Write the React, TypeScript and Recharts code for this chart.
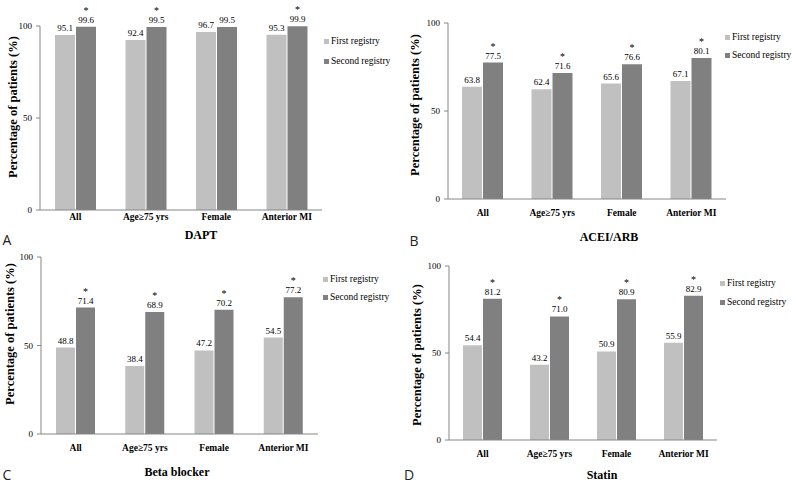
import React from 'react';
import { BarChart, Bar, XAxis, YAxis, Legend, LabelList } from 'recharts';

const categories = ['All', 'Age≥75 yrs', 'Female', 'Anterior MI'];
const seriesNames = ['First registry', 'Second registry'];
const yTicks = [0, 50, 100];
const boundaryTicks = [0, 1, 2, 3, 4];
const panelTitles = ['DAPT', 'ACEI/ARB', 'Beta blocker', 'Statin'];
const panelLetters = ['A', 'B', 'C', 'D'];
const yAxisTitle = 'Percentage of patients (%)';

const daptFirst = [95.1, 92.4, 96.7, 95.3];
const daptSecond = [99.6, 99.5, 99.5, 99.9];
const daptSig = [true, true, false, true];

const aceiFirst = [63.8, 62.4, 65.6, 67.1];
const aceiSecond = [77.5, 71.6, 76.6, 80.1];
const aceiSig = [true, true, true, true];

const betaFirst = [48.8, 38.4, 47.2, 54.5];
const betaSecond = [71.4, 68.9, 70.2, 77.2];
const betaSig = [true, true, true, true];

const statinFirst = [54.4, 43.2, 50.9, 55.9];
const statinSecond = [81.2, 71.0, 80.9, 82.9];
const statinSig = [true, true, true, true];

const SERIF = "'Liberation Serif', 'Times New Roman', serif";
const SANS = "'Open Sans', 'Liberation Sans', sans-serif";
const LIGHT = '#c0c0c0';
const DARK = '#808080';
const AXIS = '#868686';

type Cfg = {
  first: number[];
  second: number[];
  sig: boolean[];
  box: { x: number; y: number; w: number; h: number };
  plot: { l: number; r: number; t: number; b: number };
  tickMargin: number;
  barSize: number;
  legend: { x: number; y: number; gap: number };
  ylabel: { x: number; y: number };
  titlePos: { x: number; y: number };
  letterPos: { x: number; y: number };
};

const panels: Cfg[] = [
  {
    first: daptFirst, second: daptSecond, sig: daptSig,
    box: { x: 0, y: 0, w: 400, h: 240 },
    plot: { l: 40, r: 322, t: 26, b: 210 },
    tickMargin: 3, barSize: 20,
    legend: { x: 324, y: 41, gap: 20 },
    ylabel: { x: 13, y: 107 },
    titlePos: { x: 201, y: 235 },
    letterPos: { x: 7, y: 239 },
  },
  {
    first: aceiFirst, second: aceiSecond, sig: aceiSig,
    box: { x: 400, y: 0, w: 394, h: 240 },
    plot: { l: 448, r: 726, t: 23, b: 199 },
    tickMargin: 10, barSize: 20,
    legend: { x: 725, y: 37, gap: 18 },
    ylabel: { x: 415, y: 105 },
    titlePos: { x: 609, y: 237 },
    letterPos: { x: 414, y: 240 },
  },
  {
    first: betaFirst, second: betaSecond, sig: betaSig,
    box: { x: 0, y: 240, w: 400, h: 242 },
    plot: { l: 41, r: 318, t: 257, b: 434 },
    tickMargin: 10, barSize: 19,
    legend: { x: 323, y: 279, gap: 18 },
    ylabel: { x: 10, y: 334 },
    titlePos: { x: 177, y: 472 },
    letterPos: { x: 7, y: 474 },
  },
  {
    first: statinFirst, second: statinSecond, sig: statinSig,
    box: { x: 400, y: 240, w: 394, h: 242 },
    plot: { l: 449, r: 717, t: 266, b: 440 },
    tickMargin: 10, barSize: 19,
    legend: { x: 720, y: 283, gap: 19 },
    ylabel: { x: 417, y: 355 },
    titlePos: { x: 602, y: 475 },
    letterPos: { x: 409, y: 474 },
  },
];

const fmt = (v: any) => Number(v).toFixed(1);

function valueLabel(props: any) {
  const { x, y, width, value } = props;
  return (
    <text x={Number(x) + Number(width) / 2} y={Number(y) - 4} textAnchor="middle"
      fontFamily={SERIF} fontSize={9} fill="#000">{fmt(value)}</text>
  );
}

function makeSecondLabel(sig: boolean[]) {
  return (props: any) => {
    const { x, y, width, value, index } = props;
    const cx = Number(x) + Number(width) / 2;
    return (
      <g>
        <text x={cx} y={Number(y) - 4} textAnchor="middle" fontFamily={SERIF} fontSize={9} fill="#000">{fmt(value)}</text>
        {sig[index] ? (
          <text x={cx} y={Number(y) - 13} textAnchor="middle" fontFamily={SERIF} fontSize={10} fill="#000">*</text>
        ) : null}
      </g>
    );
  };
}

function makeLegend(gap: number) {
  return (props: any) => (
    <div style={{ fontFamily: SERIF, fontSize: 9.5, color: '#000', textAlign: 'left', whiteSpace: 'nowrap' }}>
      {(props.payload || []).map((e: any) => (
        <div key={e.value} style={{ display: 'flex', alignItems: 'center', height: gap }}>
          <span style={{ display: 'inline-block', width: 5, height: 5, background: e.color, marginRight: 2 }} />
          <span>{e.value}</span>
        </div>
      ))}
    </div>
  );
}

function Panel({ cfg }: { cfg: Cfg }) {
  const data = categories.map((c, i) => ({ cat: c, first: cfg.first[i], second: cfg.second[i] }));
  const { box, plot } = cfg;
  const xAxisH = 20;
  const margin = {
    top: plot.t - box.y,
    right: box.x + box.w - plot.r,
    bottom: box.y + box.h - plot.b - xAxisH,
    left: 0,
  };
  const gap = cfg.legend.gap;
  return (
    <div style={{ position: 'absolute', left: box.x, top: box.y }}>
      <BarChart width={box.w} height={box.h} data={data} margin={margin} barGap={1} barSize={cfg.barSize}>
        <XAxis xAxisId="bounds" type="number" domain={[0, 4]} ticks={boundaryTicks} tick={false}
          axisLine={false} tickSize={4} height={0} stroke={AXIS} />
        <XAxis dataKey="cat" height={xAxisH} tickLine={false} tickSize={0} tickMargin={cfg.tickMargin}
          axisLine={{ stroke: AXIS }} interval={0}
          tick={{ fontFamily: SERIF, fontSize: 9.5, fontWeight: 'bold', fill: '#000' }} />
        <YAxis width={plot.l - box.x} domain={[0, 100]} ticks={yTicks} tickSize={4} tickMargin={4}
          axisLine={{ stroke: AXIS }} tickLine={{ stroke: AXIS }}
          tick={{ fontFamily: SERIF, fontSize: 9, fill: '#000' }} />
        <Legend layout="vertical" align="center" verticalAlign="middle" content={makeLegend(gap)}
          wrapperStyle={{ left: cfg.legend.x - box.x, top: cfg.legend.y - box.y - gap / 2, width: 'auto', height: 'auto' }} />
        <Bar dataKey="first" name={seriesNames[0]} fill={LIGHT} isAnimationActive={false}>
          <LabelList dataKey="first" content={valueLabel} />
        </Bar>
        <Bar dataKey="second" name={seriesNames[1]} fill={DARK} isAnimationActive={false}>
          <LabelList dataKey="second" content={makeSecondLabel(cfg.sig)} />
        </Bar>
      </BarChart>
    </div>
  );
}

export default function App() {
  return (
    <div style={{ position: 'absolute', left: 0, top: 0, width: 794, height: 482, background: '#fff', overflow: 'hidden' }}>
      {panels.map((p, i) => <Panel key={i} cfg={p} />)}
      <svg width={794} height={482} style={{ position: 'absolute', left: 0, top: 0, pointerEvents: 'none' }}>
        {panels.map((p, i) => (
          <g key={i}>
            <text x={p.ylabel.x} y={p.ylabel.y} transform={`rotate(-90, ${p.ylabel.x}, ${p.ylabel.y})`}
              textAnchor="middle" dominantBaseline="central" fontFamily={SERIF} fontWeight="bold" fontSize={12.5} fill="#000">
              {yAxisTitle}
            </text>
            <text x={p.titlePos.x} y={p.titlePos.y} textAnchor="middle" dominantBaseline="central"
              fontFamily={SERIF} fontWeight="bold" fontSize={12} fill="#000">{panelTitles[i]}</text>
            <text x={p.letterPos.x} y={p.letterPos.y} textAnchor="middle" dominantBaseline="central"
              fontFamily={SANS} fontSize={14} fill="#222">{panelLetters[i]}</text>
          </g>
        ))}
      </svg>
    </div>
  );
}
